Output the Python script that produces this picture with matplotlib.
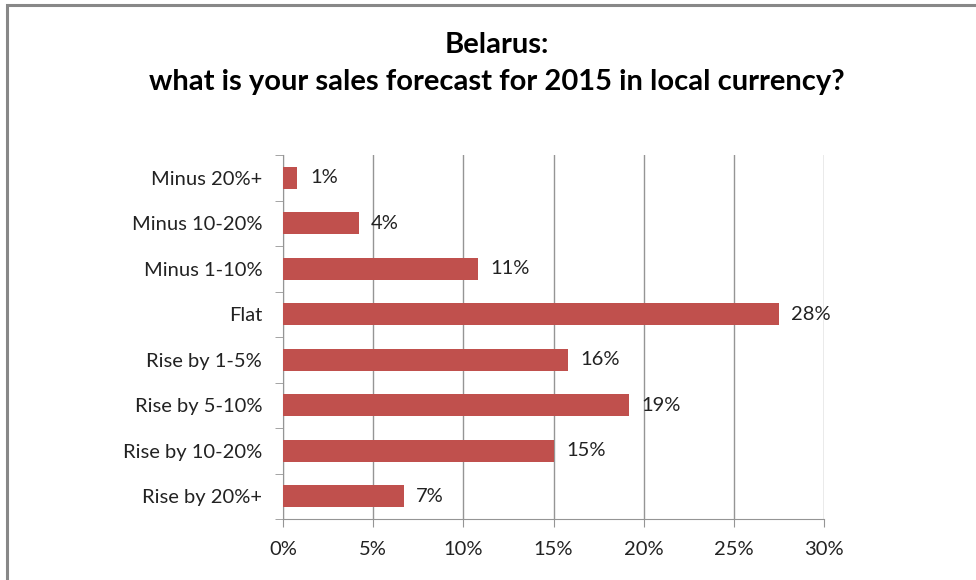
import matplotlib.pyplot as plt
from matplotlib.patches import Rectangle
from matplotlib.ticker import FixedLocator, PercentFormatter

plt.rcParams['font.family'] = ['Lato', 'DejaVu Sans']

categories = ['Minus 20%+', 'Minus 10-20%', 'Minus 1-10%', 'Flat',
              'Rise by 1-5%', 'Rise by 5-10%', 'Rise by 10-20%', 'Rise by 20%+']
values = [0.8, 4.2, 10.8, 27.5, 15.8, 19.2, 15.0, 6.7]
labels = ['1%', '4%', '11%', '28%', '16%', '19%', '15%', '7%']

bar_color = '#C0504D'
grid_color = '#959595'

fig = plt.figure(figsize=(9.76, 5.8), dpi=100)

# outer frame, cut off at right and bottom like the screenshot
fig.patches.append(Rectangle((7 / 976, -0.05), 1.2, 1 - 5 / 580 + 0.05,
                             transform=fig.transFigure, fill=False,
                             edgecolor='#888888', linewidth=2.2))

ax = fig.add_axes([283 / 976, 1 - 519 / 580, 541 / 976, 364 / 580])

ypos = list(range(len(categories)))
ax.barh(ypos, values, height=0.48, color=bar_color, zorder=3)
for y, v, lab in zip(ypos, values, labels):
    ax.annotate(lab, (v, y), xytext=(9, 0), textcoords='offset points',
                va='center', ha='left', fontsize=14.5, color='#222222')

ax.set_ylim(len(categories) - 0.5, -0.5)
ax.set_xlim(0, 30)
ax.set_yticks(ypos)
ax.set_yticklabels(categories, fontsize=14.5, color='#222222')
ax.yaxis.set_minor_locator(FixedLocator([i - 0.5 for i in range(len(categories) + 1)]))
ax.tick_params(axis='y', which='major', length=0, pad=15)
ax.tick_params(axis='y', which='minor', length=6, color=grid_color, direction='out')

ax.set_xticks(range(0, 31, 5))
ax.xaxis.set_major_formatter(PercentFormatter(decimals=0))
ax.tick_params(axis='x', length=6, color=grid_color, labelsize=14.5,
               labelcolor='#222222', pad=10)
ax.grid(axis='x', color=grid_color, linewidth=1, zorder=0)

for side in ['top', 'right']:
    ax.spines[side].set_visible(False)
for side in ['left', 'bottom']:
    ax.spines[side].set_color(grid_color)

fig.text(497 / 976, 1 - 45 / 580, 'Belarus:', ha='center', va='center',
         fontsize=21, fontweight='bold')
fig.text(497 / 976, 1 - 82 / 580, 'what is your sales forecast for 2015 in local currency?',
         ha='center', va='center', fontsize=21, fontweight='bold')

fig.savefig('out.png', dpi=100)
